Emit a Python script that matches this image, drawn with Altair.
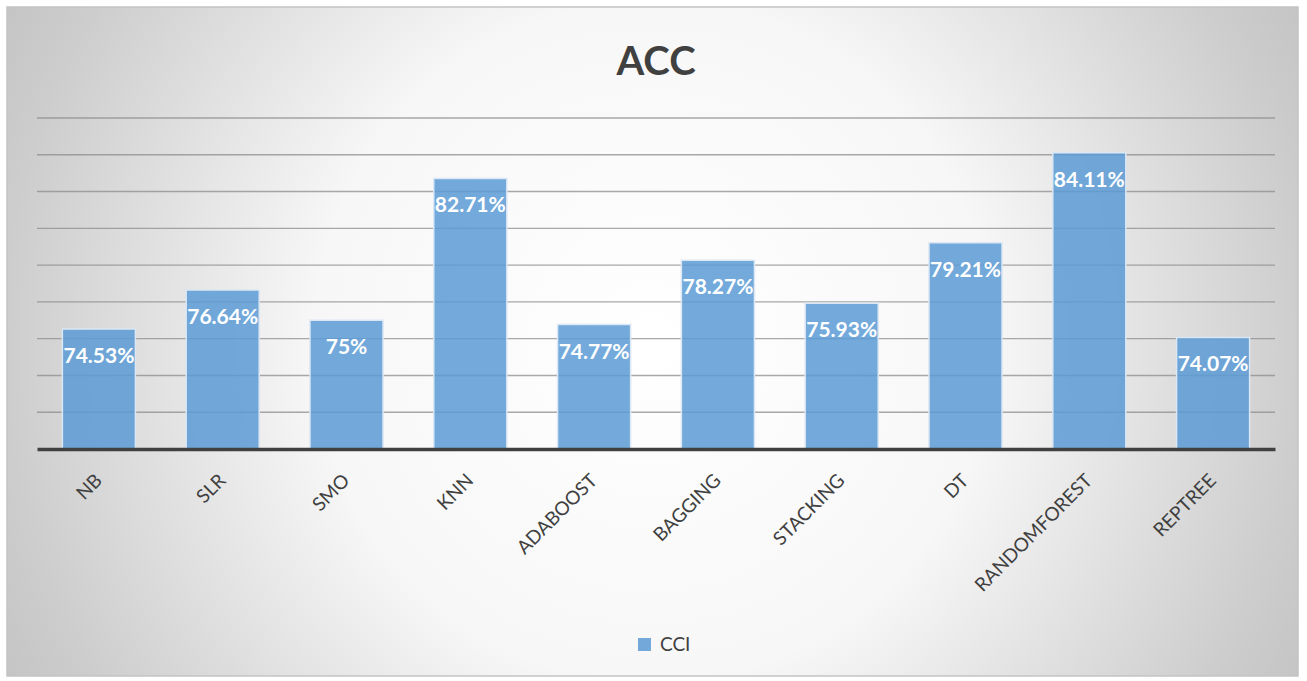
import altair as alt
import pandas as pd

categories = ["NB", "SLR", "SMO", "KNN", "ADABOOST", "BAGGING", "STACKING", "DT", "RANDOMFOREST", "REPTREE"]
values = [74.53, 76.64, 75.0, 82.71, 74.77, 78.27, 75.93, 79.21, 84.11, 74.07]
labels = ["74.53%", "76.64%", "75%", "82.71%", "74.77%", "78.27%", "75.93%", "79.21%", "84.11%", "74.07%"]
grid_values = [70, 72, 74, 76, 78, 80, 82, 84, 86]
axis_min, axis_max = 68, 86
series_name = "CCI"
title_text = "ACC"

df = pd.DataFrame({"cat": categories, "val": values, "lab": labels, "series": [series_name] * len(categories)})
grid_df = pd.DataFrame({"g": grid_values})
one_df = pd.DataFrame({"t": [title_text]})

FONT = "Lato"
W, H = 1238, 331
LEFT, TOP = 37, 118

xscale = alt.Scale(domain=categories, paddingInner=0.41, paddingOuter=0.205)
yscale = alt.Scale(domain=[axis_min, axis_max], nice=False, zero=False)

gradient = {
    "gradient": "radial",
    "x1": 0.5, "y1": 0.5, "r1": 0,
    "x2": 0.5, "y2": 0.5, "r2": 0.581,
    "stops": [
        {"offset": 0, "color": "#ffffff"},
        {"offset": 0.45, "color": "#f7f7f7"},
        {"offset": 0.867, "color": "#cdcdcd"},
        {"offset": 1, "color": "#c2c2c2"},
    ],
}

bg = alt.Chart(one_df).mark_rect(fill=gradient, stroke="#c4c4c4", strokeWidth=1.5).encode(
    x=alt.value(7 - LEFT), x2=alt.value(1298 - LEFT),
    y=alt.value(7 - TOP), y2=alt.value(676 - TOP),
)

title = alt.Chart(one_df).mark_text(
    font=FONT, fontSize=40, fontWeight="bold", color="#404040", align="center", baseline="alphabetic"
).encode(text="t:N", x=alt.value(656 - LEFT), y=alt.value(75 - TOP))

grid = alt.Chart(grid_df).mark_rule(color="#8c8c8c", strokeWidth=1.4, opacity=0.75).encode(
    y=alt.Y("g:Q", scale=yscale, axis=None),
    x=alt.value(0), x2=alt.value(W),
)

bars = alt.Chart(df).mark_bar(
    fillOpacity=0.85, stroke="#dbe7f4", strokeWidth=1.5
).encode(
    x=alt.X("cat:N", scale=xscale, sort=categories,
            axis=alt.Axis(title=None, labelAngle=-45, labelAlign="right", labelBaseline="middle",
                          labelPadding=28, ticks=False, tickSize=0, domainColor="#404040",
                          domainWidth=3.5, labelColor="#404040", labelFont=FONT, labelFontSize=19,
                          grid=False, zindex=1)),
    y=alt.Y("val:Q", scale=yscale, axis=None),
    y2=alt.datum(axis_min),
    color=alt.Color("series:N", scale=alt.Scale(domain=[series_name], range=["#5b9bd5"]),
                    legend=alt.Legend(title=None, orient="none", legendX=598, legendY=517,
                                      symbolType="square", symbolSize=170, symbolStrokeWidth=0,
                                      labelFont=FONT, labelFontSize=19, labelColor="#404040",
                                      labelOffset=6, symbolOpacity=0.85)),
)

text = alt.Chart(df).mark_text(color="white", font=FONT, fontSize=21, fontWeight="bold",
                               baseline="middle", dy=28).encode(
    x=alt.X("cat:N", scale=xscale, sort=categories),
    y=alt.Y("val:Q", scale=yscale, axis=None),
    text="lab:N",
)

chart = alt.layer(bg, title, grid, bars, text).properties(
    width=W, height=H,
    padding={"left": LEFT, "top": TOP, "right": 1307 - LEFT - W, "bottom": 681 - TOP - H},
    autosize=alt.AutoSizeParams(type="none"),
).configure_view(stroke=None).configure(background="white")

chart.save("out.html", embed_options={"renderer": "svg", "actions": False})
